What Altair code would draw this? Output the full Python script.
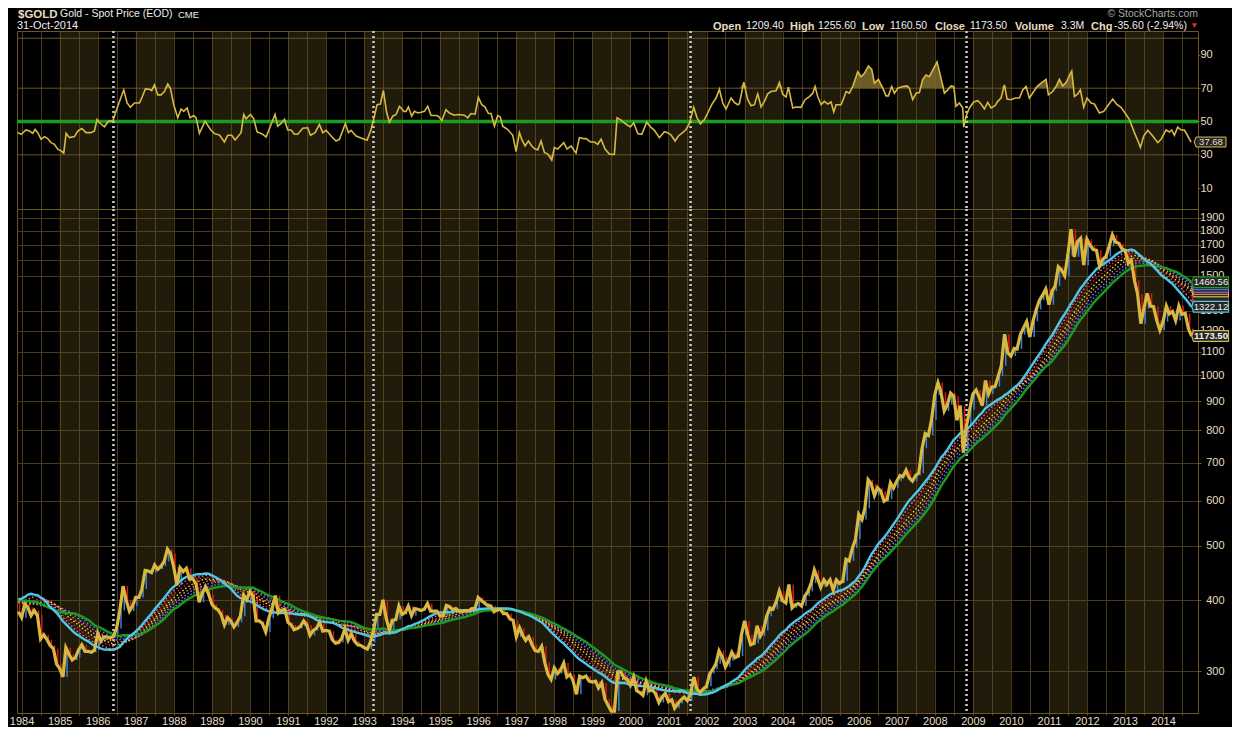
import altair as alt
import pandas as pd

# ---------------- monthly closes (USD/oz), one per month, plotted at month start ----------------
closes_1981 = [410, 425, 428, 427, 414, 400]  # Jul-Dec 1981, lead-in for the moving averages
closes_1982 = [384, 362, 320, 357, 327, 317, 342, 411, 397, 423, 414, 456]
closes_1983 = [481, 409, 414, 429, 437, 416, 422, 414, 405, 382, 405, 382]
closes_1984 = [373, 394, 389, 376, 384, 377, 342, 348, 341, 333, 329, 309]
closes_1985 = [303, 293, 330, 321, 314, 317, 327, 334, 325, 325, 324, 327]
closes_1986 = [350, 339, 345, 345, 343, 346, 357, 384, 424, 401, 383, 391]
closes_1987 = [405, 405, 419, 452, 451, 448, 462, 454, 460, 469, 493, 484]
closes_1988 = [458, 426, 457, 450, 456, 436, 437, 428, 397, 412, 423, 410]
closes_1989 = [394, 388, 385, 377, 362, 373, 368, 359, 366, 375, 409, 401]
closes_1990 = [415, 407, 368, 368, 364, 352, 372, 387, 408, 380, 384, 386]
closes_1991 = [366, 362, 355, 357, 360, 368, 362, 347, 354, 357, 366, 353]
closes_1992 = [354, 353, 341, 336, 337, 343, 357, 340, 349, 339, 334, 333]
closes_1993 = [330, 328, 337, 354, 378, 378, 401, 372, 355, 369, 370, 391]
closes_1994 = [378, 381, 391, 376, 387, 386, 384, 386, 395, 383, 383, 383]
closes_1995 = [375, 376, 392, 390, 385, 387, 383, 382, 384, 383, 387, 387]
closes_1996 = [405, 400, 396, 392, 391, 382, 385, 386, 379, 379, 371, 369]
closes_1997 = [345, 358, 348, 340, 345, 334, 326, 325, 332, 311, 296, 290]
closes_1998 = [304, 297, 301, 310, 293, 296, 288, 273, 294, 292, 294, 288]
closes_1999 = [287, 288, 280, 286, 268, 261, 255, 255, 299, 299, 292, 290]
closes_2000 = [283, 293, 277, 275, 272, 288, 277, 278, 273, 264, 270, 274]
closes_2001 = [265, 267, 258, 263, 267, 270, 266, 273, 293, 279, 275, 279]
closes_2002 = [282, 297, 302, 309, 326, 318, 305, 313, 324, 317, 319, 347]
closes_2003 = [368, 348, 334, 336, 361, 346, 354, 375, 388, 386, 398, 416]
closes_2004 = [400, 396, 427, 388, 393, 395, 391, 407, 415, 429, 453, 438]
closes_2005 = [422, 435, 427, 435, 417, 435, 429, 433, 473, 470, 495, 513]
closes_2006 = [568, 556, 582, 654, 643, 613, 633, 624, 599, 604, 646, 632]
closes_2007 = [650, 665, 662, 680, 659, 650, 665, 672, 743, 789, 783, 834]
closes_2008 = [923, 971, 934, 865, 887, 930, 918, 833, 884, 730, 815, 869]
closes_2009 = [927, 942, 916, 884, 979, 927, 954, 955, 996, 1040, 1182, 1096]
closes_2010 = [1081, 1116, 1113, 1180, 1212, 1244, 1169, 1246, 1307, 1357, 1386, 1421]
closes_2011 = [1333, 1409, 1439, 1556, 1536, 1500, 1628, 1813, 1620, 1722, 1746, 1566]
closes_2012 = [1740, 1697, 1669, 1664, 1560, 1604, 1622, 1691, 1772, 1720, 1711, 1675]
closes_2013 = [1664, 1578, 1598, 1472, 1393, 1234, 1312, 1396, 1326, 1323, 1251, 1202]
closes_2014 = [1244, 1326, 1284, 1296, 1250, 1327, 1282, 1287, 1210, 1173.5]

# ---------------- RSI: years after 1984-01-01, value ----------------
rsi_t_a = [-0.10, -0.01, 0.118, 0.206, 0.294, 0.355, 0.425, 0.512, 0.600, 0.688, 0.775, 0.863,
           0.951, 1.038, 1.108, 1.170, 1.257, 1.389, 1.476, 1.581, 1.695, 1.827, 1.914, 1.984,
           2.072, 2.177, 2.282, 2.396, 2.510, 2.597, 2.685, 2.773, 2.860, 2.965, 3.097, 3.158,
           3.254, 3.360, 3.421, 3.491, 3.579, 3.666, 3.754, 3.842, 3.911, 3.999, 4.104, 4.192,
           4.262, 4.350, 4.428, 4.525, 4.586, 4.674, 4.823, 4.963, 5.068, 5.199, 5.331, 5.418,
           5.523, 5.611, 5.769, 5.839, 5.900, 6.014, 6.102, 6.189, 6.312, 6.426, 6.557, 6.662,
           6.732, 6.820, 6.908, 6.995, 7.083, 7.170, 7.258, 7.390, 7.521, 7.591, 7.714, 7.827,
           7.915, 8.003, 8.134, 8.265, 8.353, 8.511, 8.590, 8.660, 8.791, 8.922, 9.080, 9.185,
           9.273, 9.343, 9.430, 9.509, 9.597, 9.667, 9.755, 9.842, 9.930]
rsi_v_a = [43.3, 42.3, 44.9, 44.3, 42.9, 45.2, 43.3, 39.3, 40.9, 39.7, 37.3, 36.3,
           33.4, 32.4, 31.0, 42.9, 40.3, 40.9, 44.3, 45.8, 43.3, 43.3, 44.3, 51.2,
           48.8, 46.8, 50.2, 50.2, 58.1, 63.5, 69.0, 61.1, 58.5, 61.1, 61.1, 64.1,
           69.6, 69.4, 68.6, 72.0, 66.0, 66.0, 68.0, 72.6, 70.0, 60.1, 52.2, 57.5,
           56.1, 58.1, 52.2, 53.6, 52.2, 42.9, 50.2, 45.2, 42.7, 41.9, 37.7, 41.7,
           41.7, 38.9, 43.3, 54.2, 51.6, 54.2, 51.6, 43.7, 42.7, 40.7, 48.2, 54.2,
           47.2, 48.8, 51.2, 44.9, 44.9, 42.3, 42.3, 46.0, 46.2, 41.7, 43.3, 48.2,
           43.3, 44.7, 41.3, 38.3, 39.3, 48.8, 43.3, 44.7, 41.3, 40.1, 38.7, 45.2,
           53.2, 60.1, 60.5, 68.6, 55.1, 49.6, 53.2, 54.2, 59.1]
rsi_t_b = [9.974, 10.044, 10.105, 10.166, 10.254, 10.324, 10.412, 10.499, 10.587, 10.675, 10.762,
           10.894, 10.955, 11.043, 11.156, 11.244, 11.375, 11.480, 11.638, 11.726, 11.813, 11.919,
           12.006, 12.094, 12.181, 12.269, 12.339, 12.427, 12.514, 12.584, 12.646, 12.777, 12.909,
           12.996, 13.084, 13.145, 13.233, 13.320, 13.408, 13.495, 13.566, 13.653, 13.741, 13.829,
           13.934, 14.003, 14.091, 14.249, 14.336, 14.442, 14.573, 14.661, 14.775, 14.836, 14.950,
           15.055, 15.143, 15.230, 15.335, 15.449, 15.580, 15.650, 15.756, 15.861, 16.001, 16.088,
           16.194, 16.299, 16.430, 16.526, 16.632, 16.763, 16.894, 16.982, 17.070, 17.175, 17.262,
           17.376, 17.464, 17.551, 17.665, 17.753, 17.840, 17.946, 18.033, 18.138, 18.252, 18.340,
           18.428, 18.515, 18.647, 18.734, 18.822, 18.866, 18.980, 19.085, 19.172, 19.260, 19.348,
           19.435, 19.523, 19.610, 19.698, 19.829, 19.917, 20.004, 20.092, 20.153]
rsi_v_b = [58.1, 56.1, 56.1, 58.7, 53.2, 56.1, 55.1, 55.5, 56.1, 59.1, 53.6,
           53.6, 53.2, 50.6, 57.1, 55.1, 53.8, 54.2, 53.8, 52.2, 54.8, 54.4,
           64.5, 60.1, 58.7, 54.8, 54.8, 47.2, 53.6, 52.6, 47.2, 45.2, 41.7,
           32.0, 43.3, 39.3, 35.3, 38.3, 35.3, 33.4, 33.0, 38.3, 31.4, 30.4,
           26.8, 34.4, 33.4, 37.3, 33.4, 35.3, 31.0, 40.3, 39.7, 39.7, 37.7,
           37.7, 36.3, 39.3, 33.4, 30.4, 30.2, 52.2, 50.8, 48.8, 46.8, 49.2,
           42.7, 42.3, 49.6, 46.8, 44.7, 40.3, 43.9, 43.3, 41.9, 38.3, 41.3,
           43.3, 45.2, 48.8, 58.5, 52.2, 48.6, 51.2, 55.1, 60.1, 64.1, 69.4,
           61.1, 57.5, 64.1, 61.5, 60.1, 60.7, 73.6, 63.1, 59.5, 60.1, 66.6,
           58.7, 62.1, 66.6, 68.0, 68.4, 73.4, 66.4, 64.7, 70.6]
rsi_t_c = [20.268, 20.355, 20.486, 20.591, 20.705, 20.793, 20.854, 20.924, 21.012, 21.099, 21.187,
           21.275, 21.345, 21.406, 21.537, 21.625, 21.669, 21.756, 21.844, 21.976, 22.063, 22.151,
           22.256, 22.344, 22.414, 22.519, 22.633, 22.720, 22.781, 22.869, 22.939, 23.027, 23.158,
           23.272, 23.333, 23.421, 23.509, 23.596, 23.684, 23.771, 23.859, 23.947, 24.060, 24.166,
           24.253, 24.341, 24.429, 24.499, 24.560, 24.648, 24.735, 24.762, 24.823, 24.911, 25.024,
           25.130, 25.217, 25.305, 25.392, 25.480, 25.585, 25.655, 25.742, 25.830, 25.900, 26.005,
           26.110, 26.224, 26.312, 26.399, 26.487, 26.601, 26.706, 26.811, 26.925, 26.986, 27.100,
           27.188, 27.276, 27.363, 27.451, 27.565, 27.600, 27.670, 27.758, 27.827, 27.915, 28.003,
           28.108, 28.195, 28.327, 28.441, 28.546, 28.677, 28.791, 28.896, 29.028, 29.115, 29.247,
           29.352, 29.405, 29.492, 29.597, 29.729, 29.860, 29.948, 30.079, 30.167, 30.228, 30.298,
           30.386, 30.473, 30.561, 30.650, 30.737]
rsi_v_c = [58.1, 58.7, 58.5, 63.1, 65.0, 67.0, 71.0, 65.0, 60.1, 62.1, 60.5,
           61.7, 55.7, 60.1, 60.1, 65.0, 68.0, 67.0, 71.0, 79.9, 76.9, 78.9,
           83.3, 81.3, 73.0, 75.3, 70.0, 65.4, 65.4, 71.0, 67.0, 70.0, 71.0,
           71.4, 70.0, 63.1, 67.0, 67.4, 75.3, 77.9, 76.9, 80.9, 85.8, 75.9,
           67.0, 69.0, 71.4, 71.0, 59.1, 61.1, 58.1, 46.6, 53.2, 58.1, 61.7,
           62.5, 60.5, 57.5, 61.5, 58.1, 59.5, 62.1, 64.1, 72.0, 63.5, 63.1,
           64.1, 64.1, 69.0, 71.0, 64.1, 68.0, 71.4, 73.4, 75.3, 66.0, 68.0,
           71.0, 75.3, 71.4, 73.4, 78.9, 80.3, 65.0, 66.6, 69.0, 58.5, 64.1,
           61.1, 60.5, 55.1, 56.1, 59.5, 63.5, 60.1, 58.5, 54.2, 51.2, 43.3,
           37.7, 34.4, 41.3, 44.7, 41.3, 37.3, 39.3, 44.9, 43.7, 44.9, 41.7,
           46.6, 44.9, 44.9, 41.3, 37.68]

# ---------------- other chart content ----------------
band_years = [1985, 1987, 1989, 1991, 1993, 1995, 1997, 1999, 2001, 2003, 2005, 2007, 2009, 2011, 2013]
signal_months = ["1986-06-01", "1993-04-01", "2001-08-01", "2008-11-01"]
price_ticks = [300, 400, 500, 600, 700, 800, 900, 1000, 1100, 1200, 1300, 1500, 1600, 1700, 1800, 1900]
rsi_ticks = [10, 30, 50, 70, 90]
rsi_grid_levels = [30, 70, 100]
rsi_mid_level = [50]
ma_fast = 21
ma_inner = [23, 25, 27, 29, 31, 33]
ma_slow = 35
inner_colors = ["#ff6f9f", "#e82828", "#eee04a", "#ff9a3a", "#b070f0", "#4f7fff"]

# ---------------- tables ----------------
year_blocks = [closes_1981, closes_1982, closes_1983, closes_1984, closes_1985, closes_1986, closes_1987,
               closes_1988, closes_1989, closes_1990, closes_1991, closes_1992, closes_1993, closes_1994,
               closes_1995, closes_1996, closes_1997, closes_1998, closes_1999, closes_2000, closes_2001,
               closes_2002, closes_2003, closes_2004, closes_2005, closes_2006, closes_2007, closes_2008,
               closes_2009, closes_2010, closes_2011, closes_2012, closes_2013, closes_2014]
monthly_close = [v for block in year_blocks for v in block]
month_start = pd.date_range("1981-07-01", periods=len(monthly_close), freq="MS").strftime("%Y-%m-%d").tolist()
price_df = pd.DataFrame({"date": month_start, "close": monthly_close, "idx": list(range(len(monthly_close)))})
FIRST_SHOWN = month_start.index("1983-12-01")
LAST = len(monthly_close) - 1

origin = pd.Timestamp("1984-01-01")
rsi_t = rsi_t_a + rsi_t_b + rsi_t_c
rsi_v = rsi_v_a + rsi_v_b + rsi_v_c
rsi_dates = [(origin + pd.Timedelta(days=t * 365.25)).strftime("%Y-%m-%dT%H:%M:%SZ") for t in rsi_t]
rsi_df = pd.DataFrame({"date": rsi_dates, "rsi": rsi_v})
rsi_last = rsi_df.iloc[[-1]]

bands_df = pd.DataFrame({"start": [f"{y}-01-01" for y in band_years],
                         "end": [f"{y + 1}-01-01" for y in band_years]})
signals_df = pd.DataFrame({"date": signal_months})
one = pd.DataFrame({"k": [0]})

# ---------------- styling ----------------
W, H_TOP, H_BOT = 1181, 178, 504
OX, OY = 16, 30  # page position of the plot origin, for header texts
BG = "#000000"
BAND = "#6e5a28"
GRID = "#4a3a1c"
BORDER = "#6e5626"
LABEL = "#e8dfc4"
WHITE = "#eeeeee"
GOLD = "#d8b940"
CYAN = "#4cc9e6"
GREEN = "#1c9c1c"
UP = "#3b82d6"
DOWN = "#e01414"
FONT = "Liberation Sans"
BOX = "M-1.1,0L-1,-0.31L1,-0.31L1,0.31L-1,0.31Z"
RBOX = "M-1.12,0L-1,-0.33L1,-0.33L1,0.33L-1,0.33Z"

x_scale = alt.Scale(type="utc", domain=[alt.DateTime(year=1983, month=11, date=18, utc=True),
                                        alt.DateTime(year=2014, month=12, date=2, utc=True)])
half_year = alt.TimeIntervalStep(interval="month", step=6)
ax_top = alt.Axis(grid=True, gridColor=GRID, labels=False, ticks=False, domain=False, tickCount=half_year)
ax_bot = alt.Axis(grid=True, gridColor=GRID, tickCount=half_year,
                  labelExpr="utcmonth(datum.value) == 0 ? utcFormat(datum.value, '%Y') : ''",
                  labelFlush=False, labelOverlap=False, labelColor=LABEL, labelFont=FONT,
                  labelFontSize=11, labelPadding=0, tickSize=2, tickColor=BORDER, domain=False)
rsi_scale = alt.Scale(domain=[-2.55, 104.35], nice=False, zero=False)
ax_rsi = alt.Axis(orient="right", values=rsi_ticks, grid=False, labelAlign="left", labelBaseline="middle",
                  labelPadding=0, tickSize=2, tickColor=BORDER, labelColor=LABEL, labelFont=FONT,
                  labelFontSize=11, domain=False)
price_scale = alt.Scale(type="log", domain=[253, 1968], nice=False)
ax_price = alt.Axis(orient="right", values=price_ticks, grid=True, gridColor=GRID, format="d",
                    labelAlign="right", labelBaseline="middle", labelPadding=23, tickSize=3,
                    tickColor=BORDER, labelColor=LABEL, labelFont=FONT, labelFontSize=11, domain=False)


def xt(field, axis):
    return alt.X(f"{field}:T", scale=x_scale, axis=axis, title=None)


def yr(field):
    return alt.Y(f"{field}:Q", scale=rsi_scale, axis=ax_rsi, title=None)


def yp(field):
    return alt.Y(f"{field}:Q", scale=price_scale, axis=ax_price, title=None)


def header(text, px, py_top, size, color, bold=False, align="left"):
    return alt.Chart(one).mark_text(
        text=text, font=FONT, fontSize=size, fontWeight="bold" if bold else "normal",
        color=color, align=align, baseline="top"
    ).encode(x=alt.value(px - OX), y=alt.value(py_top - OY))


# ---------------- upper panel (RSI) ----------------
bands_top = alt.Chart(bands_df).mark_rect(color=BAND, opacity=0.3).encode(x=xt("start", ax_top), x2=alt.X2("end"))
rsi_grid = alt.Chart(pd.DataFrame({"level": rsi_grid_levels})).mark_rule(color="#6a5226", strokeWidth=1).encode(y=yr("level"))
rsi_mid = alt.Chart(pd.DataFrame({"level": rsi_mid_level})).mark_rule(color=GREEN, strokeWidth=3.5).encode(y=yr("level"))
signals_top = alt.Chart(signals_df).mark_rule(color="#cfcfcf", strokeDash=[2, 3], strokeWidth=2.5).encode(x=xt("date", ax_top))
over_fill = alt.Chart(rsi_df).transform_calculate(hi="max(datum.rsi, 70)").mark_area(
    color="#7d6c30", opacity=0.85).encode(x=xt("date", ax_top), y=yr("hi"), y2=alt.datum(70))
under_fill = alt.Chart(rsi_df).transform_calculate(lo="min(datum.rsi, 30)").mark_area(
    color="#7d6c30", opacity=0.85).encode(x=xt("date", ax_top), y=yr("lo"), y2=alt.datum(30))
rsi_line = alt.Chart(rsi_df).mark_line(color=GOLD, strokeWidth=1.6).encode(x=xt("date", ax_top), y=yr("rsi"))
RX = W + 13
rsi_box = alt.Chart(rsi_last).mark_point(shape=RBOX, size=30 * 30, filled=False, fill="#262626",
                                          stroke="#d8c050", strokeWidth=1, opacity=1).encode(
    x=alt.value(RX), y=yr("rsi"))
rsi_text = alt.Chart(rsi_last).mark_text(color=LABEL, font=FONT, fontSize=9.5, align="center",
                                          baseline="middle").encode(
    x=alt.value(RX), y=yr("rsi"), text=alt.Text("rsi:Q", format=".2f"))

head = [
    header("$GOLD", 17, 8, 11.5, "#e6dcc0", bold=True),
    header("Gold - Spot Price (EOD)", 59, 8.3, 10.5, WHITE),
    header("CME", 177, 9.3, 9.5, WHITE),
    header("31-Oct-2014", 16, 19.2, 11, WHITE),
    header("\u00a9 StockCharts.com", 1197, 8, 10.5, "#a8a8a8", align="right"),
    header("Open", 712, 20, 11, "#e6dcc0", bold=True),
    header("1209.40", 745, 20.3, 10.5, WHITE),
    header("High", 789, 20, 11, "#e6dcc0", bold=True),
    header("1255.60", 817, 20.3, 10.5, WHITE),
    header("Low", 861, 20, 11, "#e6dcc0", bold=True),
    header("1160.50", 889, 20.3, 10.5, WHITE),
    header("Close", 934, 20, 11, "#e6dcc0", bold=True),
    header("1173.50", 969, 20.3, 10.5, WHITE),
    header("Volume", 1014, 20, 11, "#e6dcc0", bold=True),
    header("3.3M", 1060, 20.3, 10.5, WHITE),
    header("Chg", 1090, 20, 11, "#e6dcc0", bold=True),
    header("-35.60 (-2.94%)", 1113, 20.3, 10.5, WHITE),
    alt.Chart(one).mark_point(shape="triangle-down", filled=True, color="#ff2a2a", size=26, opacity=1).encode(
        x=alt.value(1193.5 - OX), y=alt.value(24.5 - OY)),
]

top = alt.layer(bands_top, rsi_grid, rsi_mid, signals_top, over_fill, under_fill, rsi_line,
                rsi_box, rsi_text, *head).properties(width=W, height=H_TOP)

# ---------------- lower panel (price, log scale) ----------------
ma_lengths = [ma_fast] + ma_inner + [ma_slow]
inner_keys = [f"ma{n}" for n in ma_inner]


def with_averages():
    c = alt.Chart(price_df)
    for n in ma_lengths:
        c = c.transform_window(**{f"ma{n}": "mean(close)"}, frame=[-(n - 1), 0], sort=[alt.SortField("idx")])
    return c


shown = f"datum.idx >= {FIRST_SHOWN}"
last = f"datum.idx == {LAST}"

bands_bot = alt.Chart(bands_df).mark_rect(color=BAND, opacity=0.3).encode(x=xt("start", ax_bot), x2=alt.X2("end"))
signals_bot = alt.Chart(signals_df).mark_rule(color="#cfcfcf", strokeDash=[2, 3], strokeWidth=2.5).encode(x=xt("date", ax_bot))
bars = (alt.Chart(price_df)
        .transform_window(prev="lag(close)", sort=[alt.SortField("idx")])
        .transform_filter(shown)
        .mark_rule(strokeWidth=1.5, xOffset=1.2)
        .encode(x=xt("date", ax_bot), y=yp("prev"), y2=alt.Y2("close"),
                color=alt.condition("datum.close >= datum.prev", alt.value(UP), alt.value(DOWN))))
inner_lines = (with_averages().transform_filter(shown)
               .transform_fold(inner_keys, as_=["ma", "value"])
               .mark_line(strokeWidth=1.4, strokeDash=[1.5, 2.2])
               .encode(x=xt("date", ax_bot), y=yp("value"),
                       color=alt.Color("ma:N", scale=alt.Scale(domain=inner_keys, range=inner_colors), legend=None)))
slow_line = with_averages().transform_filter(shown).mark_line(color=GREEN, strokeWidth=2.4).encode(
    x=xt("date", ax_bot), y=yp(f"ma{ma_slow}"))
fast_line = with_averages().transform_filter(shown).mark_line(color=CYAN, strokeWidth=2.4).encode(
    x=xt("date", ax_bot), y=yp(f"ma{ma_fast}"))
price_line = alt.Chart(price_df).transform_filter(shown).mark_line(color=GOLD, strokeWidth=3.2).encode(
    x=xt("date", ax_bot), y=yp("close"))

BX = W + 13
BOX_SIZE = 35 * 35
inner_boxes = (with_averages().transform_filter(last)
               .transform_fold(inner_keys, as_=["ma", "value"])
               .mark_point(shape=BOX, size=BOX_SIZE, filled=False, fill="#262626", strokeWidth=1, opacity=1)
               .encode(x=alt.value(BX), y=yp("value"),
                       stroke=alt.Stroke("ma:N", scale=alt.Scale(domain=inner_keys, range=inner_colors), legend=None)))


def end_box(chart, field, color, bold=False):
    box = chart.mark_point(shape=BOX, size=BOX_SIZE, filled=False, fill="#262626", stroke=color,
                           strokeWidth=1.2, opacity=1).encode(x=alt.value(BX), y=yp(field))
    txt = chart.mark_text(font=FONT, fontSize=9.5, align="center", baseline="middle",
                          color="#f2f2f2", fontWeight="bold" if bold else "normal").encode(
        x=alt.value(BX), y=yp(field), text=alt.Text(f"{field}:Q", format=".2f"))
    return [box, txt]


slow_end = end_box(with_averages().transform_filter(last), f"ma{ma_slow}", GREEN)
fast_end = end_box(with_averages().transform_filter(last), f"ma{ma_fast}", CYAN)
price_end = end_box(alt.Chart(price_df).transform_filter(last), "close", GOLD, bold=True)

bottom = alt.layer(bands_bot, signals_bot, bars, inner_lines, slow_line, fast_line, price_line,
                   inner_boxes, *slow_end, *fast_end, *price_end).properties(width=W, height=H_BOT)

chart = (alt.vconcat(top, bottom, spacing=0, bounds="flush")
         .resolve_scale(y="independent", color="independent", stroke="independent")
         .properties(background=BG, padding={"left": 0, "top": 0, "right": 0, "bottom": 0})
         .configure_view(stroke=BORDER, strokeWidth=1, fill=BG))

chart.save("out.html", embed_options={"renderer": "svg", "actions": False})
